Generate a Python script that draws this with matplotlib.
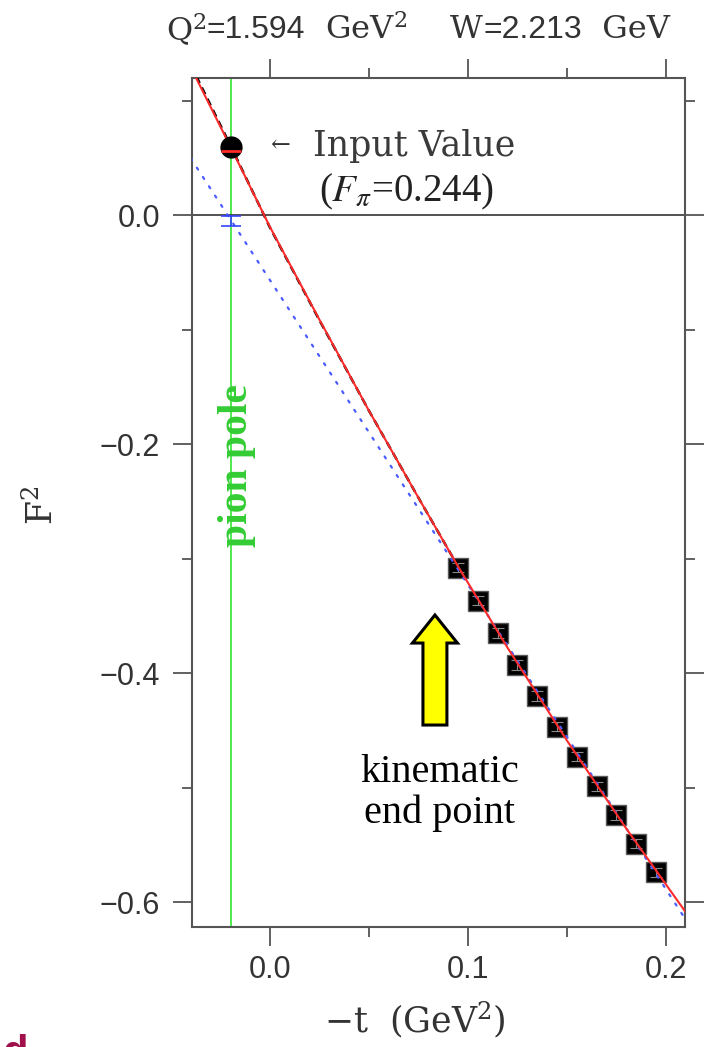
import matplotlib
matplotlib.use("Agg")
import matplotlib.pyplot as plt
from matplotlib.patches import FancyArrow
from matplotlib.ticker import MultipleLocator

# ---- values ------------------------------------------------------------
T_DATA = [0.095, 0.105, 0.115, 0.125, 0.135, 0.145, 0.155, 0.165, 0.175, 0.185, 0.195]
F2_DATA = [-0.308, -0.337, -0.365, -0.393, -0.420, -0.447, -0.473, -0.499, -0.524, -0.549, -0.574]
F2_ERR = [0.004] * len(T_DATA)

T_POLE = -0.0195            # -t = -m_pi^2
F2_INPUT = 0.0595           # F_pi = 0.244
F2_FIT_POLE = 0.056
F2_EXTRAP = -0.005
F2_EXTRAP_ERR = 0.0045

# red fit curve
T_FIT = [-0.04, -0.0195, 0.0, 0.025, 0.05, 0.075, 0.095, 0.12, 0.15, 0.18, 0.21]
F2_FIT = [0.129, 0.058, -0.0105, -0.0915, -0.171, -0.247, -0.307, -0.378, -0.459, -0.536, -0.609]
# black dashed curve, nearly on top of the red one
T_DASH = [-0.04, -0.0195, 0.0, 0.025, 0.05, 0.075, 0.095]
F2_DASH = [0.131, 0.059, -0.011, -0.092, -0.171, -0.247, -0.307]
# blue dotted straight extrapolation
T_LIN = [-0.04, 0.21]
F2_LIN = [0.0495, -0.6155]

X_TICKS = [0.0, 0.1, 0.2]
Y_TICKS = [-0.6, -0.4, -0.2, 0.0]

AX_C = "#555555"
TXT = "#333333"
SERIF = "DejaVu Serif"
SANS = "Liberation Sans"

W, H = 706, 1047
fig = plt.figure(figsize=(W / 100, H / 100), dpi=100)
fig.patch.set_facecolor("white")
ax = fig.add_axes([192 / W, 1 - 927 / H, (685 - 192) / W, (927 - 78) / H])

# ---- curves and points --------------------------------------------------
ax.axvline(T_POLE, color="#33e633", lw=1.2, zorder=1)
ax.axhline(0.0, color="#333333", lw=1.2, zorder=1)
ax.plot(T_LIN, F2_LIN, color="#4a5cff", lw=1.6, ls=(0, (1, 4)),
        dash_capstyle="round", zorder=4)
ax.plot(T_DASH, F2_DASH, color="black", lw=1.8, ls=(0, (3, 2)), zorder=4)
ax.plot(T_FIT, F2_FIT, color="#ff2a2a", lw=1.5, zorder=5)

ax.plot(T_DATA, F2_DATA, "s", ms=15, mfc="black", mec="#5a5a5a", mew=1.0,
        zorder=3)
ax.errorbar(T_DATA, F2_DATA, yerr=F2_ERR, fmt="none", ecolor="#8a8a8a",
            elinewidth=0.8, capsize=4, capthick=0.8, zorder=3.5)

ax.plot([T_POLE], [F2_INPUT], "o", ms=15, color="black", zorder=6)
ax.plot([T_POLE], [F2_FIT_POLE], marker="_", ms=14, mew=2, color="#ff2a2a",
        zorder=7)
ax.errorbar([T_POLE], [F2_EXTRAP], yerr=[F2_EXTRAP_ERR], fmt="none",
            ecolor="#3344ff", elinewidth=1.2, capsize=7, capthick=1.2, zorder=6)

# ---- axes styling -------------------------------------------------------
for s in ax.spines.values():
    s.set_color(AX_C)
    s.set_linewidth(1.5)
ax.xaxis.set_minor_locator(MultipleLocator(0.05))
ax.yaxis.set_minor_locator(MultipleLocator(0.1))
ax.set_xticks(X_TICKS)
ax.set_xticklabels([f"{v:.1f}" for v in X_TICKS])
ax.set_yticks(Y_TICKS)
ax.set_yticklabels([f"{v:.1f}".replace("-", "\u2212") for v in Y_TICKS])
ax.tick_params(which="both", direction="out", top=True, right=True,
               color=AX_C, width=1.3, labelcolor=TXT)
ax.tick_params(which="major", length=14, labelsize=22)
ax.tick_params(which="minor", length=7)
ax.tick_params(axis="y", which="major", pad=9)
ax.tick_params(axis="x", which="major", pad=6)
ax.set_xlim(-0.0394, 0.2096)
ax.set_ylim(-0.6218, 0.1197)
for lab in ax.get_xticklabels() + ax.get_yticklabels():
    lab.set_fontfamily(SANS)

# ---- annotations --------------------------------------------------------
fig.text(270 / W, 1 - 146 / H, "\u2190", fontsize=17, family=SERIF,
         color=TXT, ha="left", va="center")
fig.text(313 / W, 1 - 146 / H, "Input Value", fontsize=25, family=SERIF,
         color="#3a3a3a", ha="left", va="center")
fig.text(406 / W, 1 - 192 / H, r"($F_\pi$=0.244)", fontsize=28,
         family="Liberation Serif", math_fontfamily="stix",
         color="#222222", ha="center", va="center")

fig.text(237 / W, 1 - 466 / H, "pion pole", fontsize=30, rotation=90,
         family="Liberation Serif", weight="bold", color="#33cc33",
         ha="center", va="center")

ax.add_patch(FancyArrow(0.0833, -0.4454, 0.0, 0.0961, width=0.0121,
                        head_width=0.0227, head_length=0.0245,
                        length_includes_head=True, fc="#ffff00",
                        ec="black", lw=2.2, zorder=8))
fig.text(440 / W, 1 - 793 / H, "kinematic\nend point", fontsize=29,
         family="Liberation Serif", color="black", ha="center",
         va="center", linespacing=1.15)

# title made of serif and sans pieces laid out side by side
renderer = fig.canvas.get_renderer()
pieces = [("Q$^{2}$", SERIF), ("=1.594", SANS), ("  GeV$^{2}$    W", SERIF),
          ("=2.213", SANS), ("  GeV", SERIF)]
x = 166
for txt, fam in pieces:
    t = fig.text(x / W, 1 - 30 / H, txt, fontsize=23, family=fam, color=TXT,
                 math_fontfamily="dejavuserif", ha="left", va="center")
    x += t.get_window_extent(renderer).width

fig.text(415 / W, 1 - 1020 / H, "\u2212t  (GeV$^{2}$)", fontsize=25,
         family=SERIF, math_fontfamily="dejavuserif", color=TXT,
         ha="center", va="center")
fig.text(42 / W, 1 - 505 / H, "F$^{2}$", fontsize=25, family=SERIF,
         math_fontfamily="dejavuserif", color=TXT, rotation=90,
         ha="center", va="center")

# clipped bit of slide text at the bottom-left corner
fig.text(2 / W, 1 - 1034 / H, "d", fontsize=30, weight="bold",
         family="Liberation Sans", color="#a0104a", ha="left", va="top")

fig.savefig("out.png", dpi=100)
